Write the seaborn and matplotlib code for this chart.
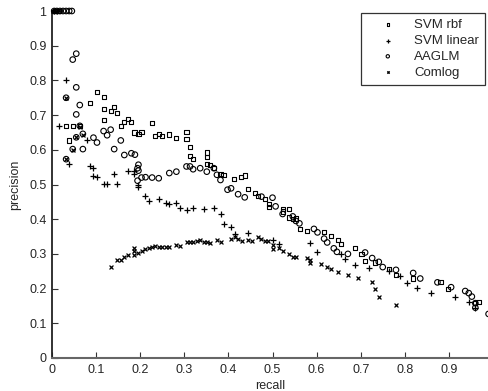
import matplotlib
matplotlib.use('Agg')
import matplotlib.pyplot as plt
import seaborn as sns
import pandas as pd

# SVM rbf (squares)
rbf_recall = [0.008, 0.015, 0.032, 0.039, 0.047, 0.063, 0.086, 0.102, 0.117, 0.117, 0.117,
              0.133, 0.141, 0.148, 0.156, 0.164, 0.172, 0.180, 0.187, 0.196, 0.203, 0.227,
              0.234, 0.242, 0.250, 0.266, 0.282, 0.305, 0.305, 0.313, 0.313, 0.320, 0.351,
              0.351, 0.351, 0.359, 0.367, 0.382, 0.389, 0.413, 0.429, 0.438, 0.444, 0.460,
              0.468, 0.483, 0.492, 0.492, 0.523, 0.523, 0.538, 0.538, 0.546, 0.553, 0.562,
              0.578, 0.617, 0.632, 0.648, 0.655, 0.687, 0.702, 0.710, 0.733, 0.765, 0.780,
              0.819, 0.881, 0.898, 0.960, 0.967]
rbf_precision = [1.0, 1.0, 0.668, 0.627, 0.668, 0.668, 0.735, 0.767, 0.752, 0.717, 0.685,
                 0.711, 0.723, 0.706, 0.669, 0.680, 0.689, 0.680, 0.650, 0.646, 0.652, 0.677,
                 0.640, 0.646, 0.640, 0.644, 0.635, 0.652, 0.631, 0.608, 0.583, 0.573, 0.592,
                 0.579, 0.559, 0.557, 0.547, 0.531, 0.528, 0.516, 0.521, 0.526, 0.487, 0.475,
                 0.468, 0.459, 0.444, 0.435, 0.430, 0.422, 0.429, 0.405, 0.400, 0.402, 0.372,
                 0.367, 0.364, 0.351, 0.340, 0.329, 0.318, 0.300, 0.280, 0.275, 0.257, 0.240,
                 0.229, 0.218, 0.199, 0.158, 0.162]

# SVM linear (plus)
lin_recall = [0.005, 0.012, 0.017, 0.032, 0.039, 0.079, 0.086, 0.094, 0.094, 0.102, 0.117,
              0.125, 0.141, 0.148, 0.172, 0.187, 0.187, 0.196, 0.196, 0.212, 0.219, 0.242,
              0.258, 0.266, 0.282, 0.290, 0.305, 0.320, 0.345, 0.367, 0.383, 0.391, 0.406,
              0.414, 0.445, 0.500, 0.515, 0.586, 0.602, 0.655, 0.664, 0.687, 0.718, 0.765,
              0.788, 0.804, 0.828, 0.859, 0.913, 0.945, 0.960]
lin_precision = [1.0, 1.0, 0.668, 0.802, 0.558, 0.627, 0.554, 0.548, 0.525, 0.523, 0.502,
                 0.502, 0.531, 0.502, 0.538, 0.531, 0.540, 0.499, 0.492, 0.467, 0.453, 0.458,
                 0.446, 0.443, 0.446, 0.432, 0.427, 0.433, 0.429, 0.432, 0.415, 0.386, 0.378,
                 0.358, 0.360, 0.340, 0.328, 0.330, 0.306, 0.300, 0.285, 0.267, 0.260, 0.251,
                 0.235, 0.216, 0.203, 0.187, 0.175, 0.160, 0.145]

# AAGLM (circles)
aag_recall = [0.005, 0.011, 0.018, 0.025, 0.032, 0.039, 0.045, 0.032, 0.032, 0.047, 0.055,
              0.047, 0.055, 0.055, 0.063, 0.055, 0.063, 0.070, 0.070, 0.094, 0.102, 0.117,
              0.125, 0.133, 0.156, 0.141, 0.164, 0.180, 0.188, 0.196, 0.194, 0.196, 0.194,
              0.203, 0.212, 0.227, 0.242, 0.266, 0.282, 0.305, 0.313, 0.320, 0.336, 0.351,
              0.367, 0.374, 0.382, 0.398, 0.406, 0.422, 0.437, 0.475, 0.500, 0.507, 0.523,
              0.546, 0.553, 0.561, 0.594, 0.602, 0.617, 0.624, 0.639, 0.646, 0.671, 0.710,
              0.726, 0.741, 0.750, 0.780, 0.819, 0.835, 0.874, 0.905, 0.937, 0.945, 0.952,
              0.960, 0.960, 0.990]
aag_precision = [1.0, 1.0, 1.0, 1.0, 1.0, 1.0, 1.0, 0.750, 0.573, 0.860, 0.877,
                 0.602, 0.780, 0.636, 0.729, 0.702, 0.669, 0.646, 0.602, 0.635, 0.621, 0.654,
                 0.642, 0.658, 0.627, 0.602, 0.585, 0.590, 0.586, 0.557, 0.547, 0.540, 0.511,
                 0.520, 0.521, 0.520, 0.518, 0.533, 0.537, 0.552, 0.552, 0.544, 0.547, 0.537,
                 0.547, 0.528, 0.513, 0.485, 0.489, 0.472, 0.463, 0.465, 0.462, 0.437, 0.415,
                 0.408, 0.395, 0.388, 0.372, 0.362, 0.344, 0.333, 0.316, 0.306, 0.300, 0.304,
                 0.288, 0.277, 0.262, 0.254, 0.245, 0.229, 0.218, 0.204, 0.193, 0.187, 0.177,
                 0.158, 0.145, 0.127]

# Comlog (x)
com_recall = [0.003, 0.008, 0.032, 0.032, 0.047, 0.055, 0.063, 0.070, 0.133, 0.148, 0.156,
              0.164, 0.172, 0.187, 0.187, 0.187, 0.196, 0.203, 0.211, 0.219, 0.227, 0.234,
              0.242, 0.250, 0.258, 0.266, 0.282, 0.290, 0.305, 0.313, 0.320, 0.328, 0.336,
              0.344, 0.351, 0.359, 0.375, 0.383, 0.406, 0.414, 0.422, 0.430, 0.445, 0.453,
              0.468, 0.475, 0.483, 0.490, 0.500, 0.500, 0.515, 0.523, 0.538, 0.546, 0.553,
              0.578, 0.586, 0.586, 0.609, 0.624, 0.632, 0.648, 0.671, 0.695, 0.726, 0.733,
              0.741, 0.780]
com_precision = [1.0, 1.0, 0.750, 0.573, 0.600, 0.636, 0.665, 0.643, 0.262, 0.281, 0.282,
                 0.291, 0.298, 0.316, 0.307, 0.297, 0.302, 0.309, 0.314, 0.316, 0.321, 0.324,
                 0.319, 0.319, 0.319, 0.320, 0.325, 0.323, 0.335, 0.335, 0.333, 0.336, 0.341,
                 0.335, 0.333, 0.332, 0.339, 0.335, 0.343, 0.350, 0.342, 0.338, 0.340, 0.337,
                 0.350, 0.342, 0.338, 0.338, 0.326, 0.314, 0.317, 0.307, 0.300, 0.291, 0.291,
                 0.288, 0.281, 0.274, 0.271, 0.263, 0.256, 0.249, 0.239, 0.230, 0.218, 0.198,
                 0.177, 0.153]

x_ticks = [0, 0.1, 0.2, 0.3, 0.4, 0.5, 0.6, 0.7, 0.8, 0.9]
y_ticks = [0, 0.1, 0.2, 0.3, 0.4, 0.5, 0.6, 0.7, 0.8, 0.9, 1]

sns.set_style('white')
plt.rcParams['font.family'] = ['Liberation Sans', 'DejaVu Sans']

fig = plt.figure(figsize=(4.88, 3.91), dpi=100)
ax = fig.add_axes([52 / 488, 33 / 391, 436 / 488, 347 / 391])

series = [
    ('SVM rbf', rbf_recall, rbf_precision, 's', 9, True),
    ('SVM linear', lin_recall, lin_precision, '+', 24, False),
    ('AAGLM', aag_recall, aag_precision, 'o', 16, True),
    ('Comlog', com_recall, com_precision, 'x', 8, False),
]

for name, rec, prec, mk, size, hollow in series:
    df = pd.DataFrame({'recall': rec, 'precision': prec})
    kw = dict(data=df, x='recall', y='precision', marker=mk, s=size, label=name,
              ax=ax, clip_on=False, zorder=3)
    if hollow:
        sns.scatterplot(facecolor='none', edgecolor='k', linewidth=0.8, **kw)
    else:
        sns.scatterplot(color='k', linewidth=0.9, **kw)

ax.set_xlim(0, 436 / 441)
ax.set_ylim(0, 1)
ax.set_xticks(x_ticks)
ax.set_xticklabels([f'{t:g}' for t in x_ticks])
ax.set_yticks(y_ticks)
ax.set_yticklabels([f'{t:g}' for t in y_ticks])
ax.tick_params(direction='in', length=4, width=0.8, color='#333333', labelsize=9, pad=4,
               bottom=True, left=True)
sns.despine(ax=ax)
ax.spines['left'].set_color('#222222')
ax.spines['bottom'].set_color('#666666')
ax.spines['left'].set_linewidth(1.3)
ax.spines['bottom'].set_linewidth(1.5)
ax.set_xlabel('recall', fontsize=9, labelpad=3)
ax.set_ylabel('precision', fontsize=9, labelpad=6)

leg = ax.legend(loc='upper right', bbox_to_anchor=(485 / 488, 378 / 391),
                bbox_transform=fig.transFigure, fontsize=9.5, frameon=True,
                fancybox=False, edgecolor='k', handletextpad=0.4, handlelength=3.2,
                borderpad=0.45, labelspacing=0.27, borderaxespad=0, markerscale=0.6)
leg.get_frame().set_linewidth(0.9)

fig.savefig('out.png', dpi=100)
